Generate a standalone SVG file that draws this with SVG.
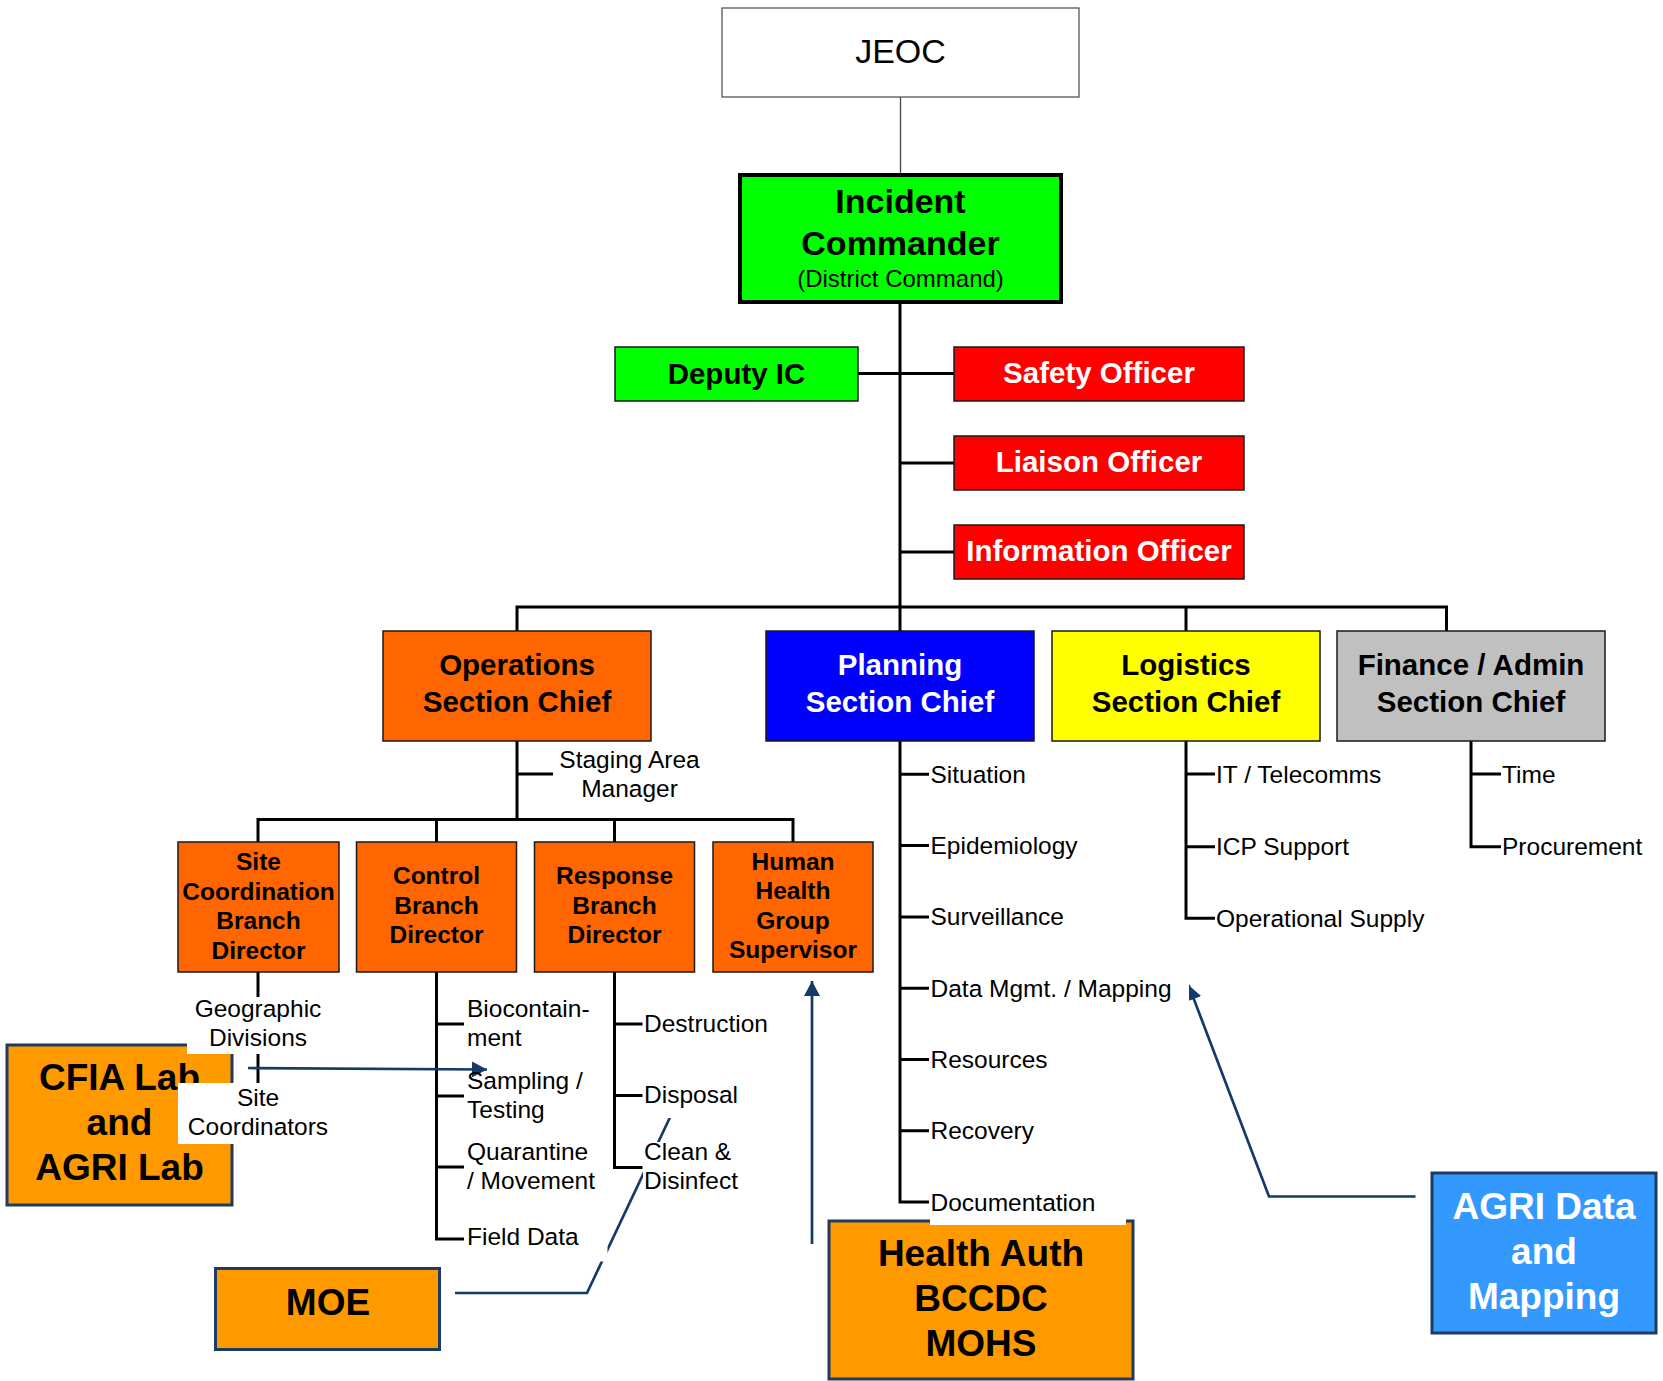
<svg xmlns="http://www.w3.org/2000/svg" width="1663" height="1381" viewBox="0 0 1663 1381">
  <style>
    text { font-family: "Liberation Sans", Arial, sans-serif; fill: #000; }
    .c { text-anchor: middle; }
    .b { font-weight: bold; }
    .w { fill: #fff; }
    .sec { font-size: 29.5px; font-weight: bold; text-anchor: middle; }
    .br { font-size: 24.5px; font-weight: bold; text-anchor: middle; }
    .lbl { font-size: 24.5px; }
    .ext { font-size: 37px; font-weight: bold; text-anchor: middle; }
    .box { stroke: #1a1a1a; stroke-width: 1.5; }
    .xbox { stroke: #1f3a63; stroke-width: 3; fill: #ff9900; }
    .org { fill: none; stroke: #000; stroke-width: 3; }
    .thin { fill: none; stroke: #444; stroke-width: 1.3; }
    .link { fill: none; stroke: #14396a; stroke-width: 2.7; }
    .bg { fill: #fff; }
  </style>
  <defs>
    <marker id="arrow" markerUnits="userSpaceOnUse" markerWidth="16" markerHeight="16" refX="15" refY="8" orient="auto">
      <path d="M0,0 L15,8 L0,16 z" fill="#14396a"/>
    </marker>
  </defs>

  <rect width="1663" height="1381" fill="#fff"/>

  <!-- reporting lines of the org chart -->
  <g id="connectors">
    <path class="thin" d="M900.5,97 V175"/>
    <path class="org" d="M900,304 V631"/>
    <path class="org" d="M857,373.5 H954 M900,463 H954 M900,552 H954"/>
    <path class="org" d="M517,631 V607 H1446.5 V631 M1186,607 V631"/>
    <path class="org" d="M517,741 V819.5 M517,774 H553"/>
    <path class="org" d="M258,842 V819.5 H793 V842 M436.5,819.5 V842 M614.5,819.5 V842"/>
    <path class="org" d="M258,972 V1090"/>
    <path class="org" d="M436.5,972 V1239 H464 M436.5,1024 H464 M436.5,1096 H464 M436.5,1167 H464"/>
    <path class="org" d="M614.5,972 V1167.5 H642.5 M614.5,1024 H642.5 M614.5,1095.5 H642.5"/>
    <path class="org" d="M900,741 V1202 H929 M900,774.3 H929 M900,845.6 H929 M900,916.9 H929 M900,988.2 H929 M900,1059.5 H929 M900,1130.8 H929"/>
    <path class="org" d="M1186,741 V918.3 H1215 M1186,774 H1215 M1186,846.7 H1215"/>
    <path class="org" d="M1471,741 V846.7 H1501 M1471,774 H1501"/>
  </g>

  <g id="jeoc">
    <rect x="722" y="8" width="357" height="89" fill="#fff" stroke="#555" stroke-width="1.3"/>
    <text class="c" x="900.5" y="63" font-size="34">JEOC</text>
  </g>

  <g id="incident-commander">
    <rect x="740" y="175" width="321" height="127" fill="#00ff00" stroke="#000" stroke-width="4"/>
    <text class="c b" x="900.5" y="212.5" font-size="34">Incident</text>
    <text class="c b" x="900.5" y="255" font-size="34">Commander</text>
    <text class="c" x="900.5" y="287" font-size="24">(District Command)</text>
  </g>

  <g id="deputy-ic">
    <rect class="box" x="615" y="347" width="243" height="54" fill="#00ff00"/>
    <text class="sec" x="736.5" y="384">Deputy IC</text>
  </g>
  <g id="safety-officer">
    <rect class="box" x="954" y="347" width="290" height="54" fill="#ff0000"/>
    <text class="sec w" x="1099" y="383">Safety Officer</text>
  </g>
  <g id="liaison-officer">
    <rect class="box" x="954" y="436" width="290" height="54" fill="#ff0000"/>
    <text class="sec w" x="1099" y="472">Liaison Officer</text>
  </g>
  <g id="information-officer">
    <rect class="box" x="954" y="525" width="290" height="54" fill="#ff0000"/>
    <text class="sec w" x="1099" y="561">Information Officer</text>
  </g>

  <g id="operations">
    <rect class="box" x="383" y="631" width="268" height="110" fill="#ff6600"/>
    <text class="sec" x="517" y="675">Operations</text>
    <text class="sec" x="517" y="711.5">Section Chief</text>
  </g>
  <g id="planning">
    <rect class="box" x="766" y="631" width="268" height="110" fill="#0000ff"/>
    <text class="sec w" x="900" y="675">Planning</text>
    <text class="sec w" x="900" y="711.5">Section Chief</text>
  </g>
  <g id="logistics">
    <rect class="box" x="1052" y="631" width="268" height="110" fill="#ffff00"/>
    <text class="sec" x="1186" y="675">Logistics</text>
    <text class="sec" x="1186" y="711.5">Section Chief</text>
  </g>
  <g id="finance-admin">
    <rect class="box" x="1337" y="631" width="268" height="110" fill="#c0c0c0"/>
    <text class="sec" x="1471" y="675">Finance / Admin</text>
    <text class="sec" x="1471" y="711.5">Section Chief</text>
  </g>

  <g id="site-coordination">
    <rect class="box" x="178" y="842" width="161" height="130" fill="#ff6600"/>
    <text class="br" x="258.5" y="870">Site</text>
    <text class="br" x="258.5" y="899.5">Coordination</text>
    <text class="br" x="258.5" y="929">Branch</text>
    <text class="br" x="258.5" y="958.5">Director</text>
  </g>
  <g id="control-branch">
    <rect class="box" x="356.5" y="842" width="160" height="130" fill="#ff6600"/>
    <text class="br" x="436.5" y="884">Control</text>
    <text class="br" x="436.5" y="913.5">Branch</text>
    <text class="br" x="436.5" y="943">Director</text>
  </g>
  <g id="response-branch">
    <rect class="box" x="534.5" y="842" width="160" height="130" fill="#ff6600"/>
    <text class="br" x="614.5" y="884">Response</text>
    <text class="br" x="614.5" y="913.5">Branch</text>
    <text class="br" x="614.5" y="943">Director</text>
  </g>
  <g id="human-health">
    <rect class="box" x="713" y="842" width="160" height="130" fill="#ff6600"/>
    <text class="br" x="793" y="869.5">Human</text>
    <text class="br" x="793" y="899">Health</text>
    <text class="br" x="793" y="928.5">Group</text>
    <text class="br" x="793" y="958">Supervisor</text>
  </g>

  <!-- partner agencies -->
  <g id="cfia-agri-lab">
    <rect class="xbox" x="7" y="1045" width="225" height="160"/>
    <text class="ext" x="119.5" y="1090">CFIA Lab</text>
    <text class="ext" x="119.5" y="1135">and</text>
    <text class="ext" x="119.5" y="1180">AGRI Lab</text>
  </g>
  <g id="moe">
    <rect class="xbox" x="215.5" y="1268.5" width="224" height="81"/>
    <text class="ext" x="328" y="1315">MOE</text>
  </g>
  <g id="health-auth">
    <rect class="xbox" x="829" y="1221" width="304" height="158"/>
    <text class="ext" x="981" y="1266">Health Auth</text>
    <text class="ext" x="981" y="1311">BCCDC</text>
    <text class="ext" x="981" y="1356">MOHS</text>
  </g>
  <g id="agri-data-mapping">
    <rect class="xbox" x="1432" y="1173" width="224" height="160" fill="#3399ff" style="fill:#3399ff"/>
    <text class="ext w" x="1544" y="1218.5">AGRI Data</text>
    <text class="ext w" x="1544" y="1263.5">and</text>
    <text class="ext w" x="1544" y="1308.5">Mapping</text>
  </g>

  <!-- support links from partner agencies -->
  <g id="support-links">
    <path class="link" d="M248,1068 L487,1069.5" marker-end="url(#arrow)"/>
    <path class="link" d="M812,1244 V981" marker-end="url(#arrow)"/>
    <path class="link" d="M1415.5,1196.5 H1269 L1188.5,985" marker-end="url(#arrow)"/>
    <path class="link" d="M455,1293 H587 L673,1111"/>
  </g>

  <!-- position labels (white backing hides what runs beneath) -->
  <g id="labels">
    <g id="staging-area">
      <text class="lbl c" x="629.5" y="768">Staging Area</text>
      <text class="lbl c" x="629.5" y="797">Manager</text>
    </g>
    <g id="geographic-divisions">
      <rect class="bg" x="187" y="997" width="142" height="57"/>
      <text class="lbl c" x="258" y="1016.5">Geographic</text>
      <text class="lbl c" x="258" y="1046">Divisions</text>
    </g>
    <g id="site-coordinators">
      <rect class="bg" x="178" y="1083" width="160" height="61"/>
      <text class="lbl c" x="258" y="1106">Site</text>
      <text class="lbl c" x="258" y="1135">Coordinators</text>
    </g>
    <g id="biocontainment">
      <text class="lbl" x="467" y="1016.5">Biocontain-</text>
      <text class="lbl" x="467" y="1046">ment</text>
    </g>
    <g id="sampling-testing">
      <text class="lbl" x="467" y="1088.5">Sampling /</text>
      <text class="lbl" x="467" y="1117.5">Testing</text>
    </g>
    <g id="quarantine-movement">
      <text class="lbl" x="467" y="1159.5">Quarantine</text>
      <text class="lbl" x="467" y="1188.5">/ Movement</text>
    </g>
    <g id="field-data">
      <rect class="bg" x="465" y="1222" width="142.5" height="39.5"/>
      <text class="lbl" x="467" y="1245">Field Data</text>
    </g>
    <g id="destruction">
      <text class="lbl" x="644" y="1031.5">Destruction</text>
    </g>
    <g id="disposal">
      <rect class="bg" x="643" y="1080" width="100" height="38"/>
      <text class="lbl" x="644" y="1103">Disposal</text>
    </g>
    <g id="clean-disinfect">
      <rect class="bg" x="643" y="1142" width="100" height="56"/>
      <text class="lbl" x="644" y="1159.5">Clean &amp;</text>
      <text class="lbl" x="644" y="1188.5">Disinfect</text>
    </g>
    <g id="situation"><text class="lbl" x="930.5" y="782.8">Situation</text></g>
    <g id="epidemiology"><text class="lbl" x="930.5" y="854.1">Epidemiology</text></g>
    <g id="surveillance"><text class="lbl" x="930.5" y="925.4">Surveillance</text></g>
    <g id="data-mgmt">
      <rect class="bg" x="930" y="970" width="259" height="36"/>
      <text class="lbl" x="930.5" y="996.7">Data Mgmt. / Mapping</text>
    </g>
    <g id="resources"><text class="lbl" x="930.5" y="1068">Resources</text></g>
    <g id="recovery"><text class="lbl" x="930.5" y="1139.3">Recovery</text></g>
    <g id="documentation">
      <rect class="bg" x="930" y="1185" width="196" height="40"/>
      <text class="lbl" x="930.5" y="1210.5">Documentation</text>
    </g>
    <g id="it-telecomms"><text class="lbl" x="1216" y="782.5">IT / Telecomms</text></g>
    <g id="icp-support"><text class="lbl" x="1216" y="855.2">ICP Support</text></g>
    <g id="operational-supply"><text class="lbl" x="1216" y="926.8">Operational Supply</text></g>
    <g id="time"><text class="lbl" x="1502" y="782.5">Time</text></g>
    <g id="procurement"><text class="lbl" x="1502" y="855.2">Procurement</text></g>
  </g>
</svg>
